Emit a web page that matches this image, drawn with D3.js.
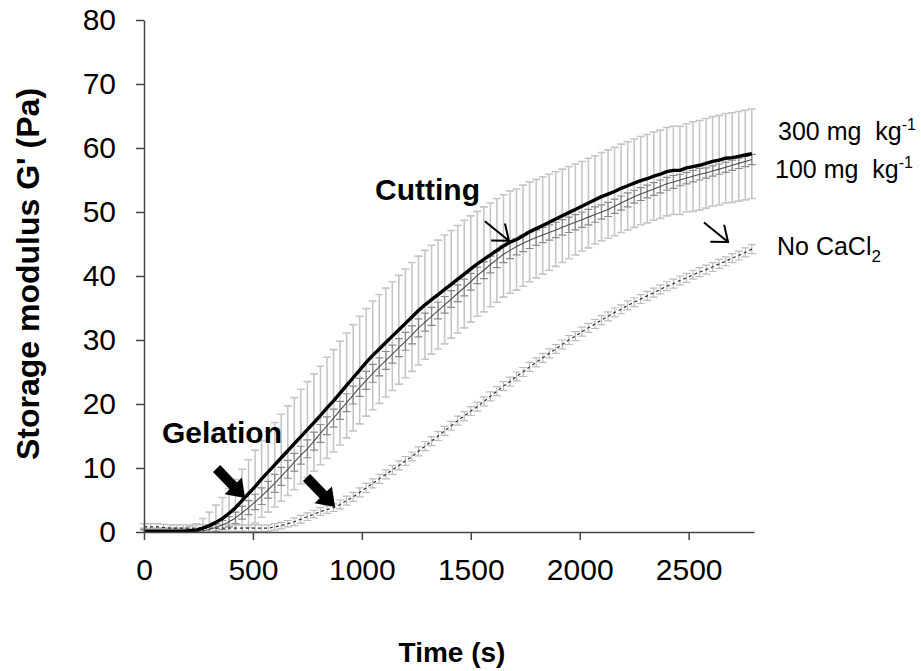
<!DOCTYPE html>
<html lang="en">

<head>
    <meta charset="UTF-8">
    <title>Storage modulus G' vs time</title>
    <script src="https://cdnjs.cloudflare.com/ajax/libs/d3/7.8.5/d3.min.js" type="text/JavaScript"></script>
    <style>
        body { margin: 0; background: #fff; }
        svg { display: block; font-family: "Liberation Sans", Arial, sans-serif; }
    </style>
</head>

<body>
    <svg width="921" height="671"></svg>
    <script>
        // sampling times (s)
        const times = [
            0, 30, 60, 90, 120, 150, 180, 210, 240, 270,
            300, 330, 360, 390, 420, 450, 480, 510, 540, 570,
            600, 630, 660, 690, 720, 750, 780, 810, 840, 870,
            900, 930, 960, 990, 1020, 1050, 1080, 1110, 1140, 1170,
            1200, 1230, 1260, 1290, 1320, 1350, 1380, 1410, 1440, 1470,
            1500, 1530, 1560, 1590, 1620, 1650, 1680, 1710, 1740, 1770,
            1800, 1830, 1860, 1890, 1920, 1950, 1980, 2010, 2040, 2070,
            2100, 2130, 2160, 2190, 2220, 2250, 2280, 2310, 2340, 2370,
            2400, 2430, 2460, 2490, 2520, 2550, 2580, 2610, 2640, 2670,
            2700, 2730, 2760, 2790
        ]

        // 300 mg kg-1 CaCl2
        const g300 = [
            0.1, 0.1, 0.1, 0.1, 0.1, 0.1, 0.1, 0.2, 0.3, 0.6,
            1.0, 1.5, 2.1, 2.9, 3.8, 4.9, 6.0, 7.1, 8.3, 9.4,
            10.5, 11.6, 12.7, 13.8, 14.9, 16.0, 17.1, 18.2, 19.4, 20.5,
            21.7, 22.9, 24.1, 25.3, 26.5, 27.6, 28.6, 29.6, 30.6, 31.6,
            32.6, 33.6, 34.6, 35.5, 36.3, 37.1, 37.9, 38.7, 39.5, 40.3,
            41.1, 41.9, 42.6, 43.3, 44.0, 44.7, 45.3, 45.7, 46.3, 46.9,
            47.4, 47.9, 48.4, 48.9, 49.4, 49.9, 50.4, 50.9, 51.4, 51.9,
            52.4, 52.8, 53.2, 53.7, 54.1, 54.5, 54.9, 55.2, 55.6, 55.9,
            56.3, 56.5, 56.5, 56.9, 57.1, 57.3, 57.6, 57.9, 58.1, 58.4,
            58.5, 58.7, 58.9, 59.1
        ]
        const sd300 = [
            0.5, 0.5, 0.5, 0.5, 0.5, 0.5, 0.5, 0.7, 1.0, 1.5,
            2.1, 2.7, 3.3, 3.9, 4.4, 4.9, 5.3, 5.7, 6.0, 6.3,
            6.6, 6.8, 7.0, 7.2, 7.4, 7.5, 7.6, 7.7, 7.9, 8.0,
            8.1, 8.2, 8.3, 8.4, 8.4, 8.5, 8.5, 8.5, 8.5, 8.5,
            8.5, 8.5, 8.5, 8.5, 8.5, 8.5, 8.5, 8.4, 8.4, 8.4,
            8.3, 8.2, 8.2, 8.1, 8.1, 8.0, 8.0, 7.9, 7.9, 7.8,
            7.7, 7.6, 7.5, 7.4, 7.3, 7.2, 7.1, 7.0, 7.0, 6.9,
            6.9, 6.9, 6.9, 6.9, 6.9, 6.9, 6.9, 6.9, 6.9, 6.9,
            6.9, 6.9, 6.9, 6.9, 7.0, 7.0, 7.0, 7.0, 7.0, 7.0,
            7.0, 7.0, 7.0, 7.0
        ]

        // 100 mg kg-1 CaCl2
        const g100 = [
            0.1, 0.1, 0.1, 0.1, 0.1, 0.1, 0.1, 0.1, 0.1, 0.2,
            0.4, 0.7, 1.1, 1.6, 2.2, 3.0, 3.8, 4.7, 5.6, 6.6,
            7.6, 8.7, 9.8, 10.9, 12.0, 13.0, 14.2, 15.4, 16.6, 17.8,
            19.0, 20.2, 21.4, 22.6, 23.7, 24.8, 25.8, 26.8, 27.8, 28.8,
            29.8, 30.8, 31.9, 32.8, 33.7, 34.6, 35.5, 36.4, 37.3, 38.2,
            39.1, 40.1, 40.9, 41.8, 42.6, 43.4, 44.0, 44.6, 45.1, 45.6,
            46.0, 46.4, 46.8, 47.2, 47.6, 48.0, 48.4, 48.8, 49.2, 49.6,
            50.0, 50.4, 50.9, 51.4, 51.9, 52.4, 52.8, 53.2, 53.6, 54.0,
            54.4, 54.7, 55.0, 55.3, 55.6, 55.9, 56.1, 56.4, 56.7, 57.0,
            57.3, 57.6, 57.9, 58.2
        ]
        const sd100 = [
            0.3, 0.3, 0.3, 0.3, 0.3, 0.3, 0.3, 0.3, 0.3, 0.4,
            0.5, 0.6, 0.7, 0.8, 0.9, 1.0, 1.1, 1.2, 1.3, 1.3,
            1.4, 1.4, 1.4, 1.4, 1.4, 1.4, 1.4, 1.4, 1.4, 1.4,
            1.4, 1.4, 1.4, 1.4, 1.4, 1.4, 1.4, 1.4, 1.4, 1.4,
            1.4, 1.4, 1.4, 1.4, 1.4, 1.3, 1.3, 1.3, 1.3, 1.3,
            1.3, 1.3, 1.3, 1.3, 1.3, 1.3, 1.3, 1.3, 1.3, 1.3,
            1.2, 1.2, 1.2, 1.2, 1.2, 1.2, 1.2, 1.2, 1.2, 1.2,
            1.1, 1.1, 1.1, 1.1, 1.1, 1.0, 1.0, 1.0, 1.0, 1.0,
            1.0, 1.0, 0.9, 0.9, 0.9, 0.9, 0.8, 0.8, 0.8, 0.8,
            0.8, 0.8, 0.8, 0.8
        ]

        // no CaCl2
        const gNo = [
            0.8, 0.8, 0.8, 0.7, 0.6, 0.6, 0.6, 0.6, 0.6, 0.6,
            0.6, 0.6, 0.6, 0.6, 0.6, 0.6, 0.6, 0.6, 0.6, 0.6,
            0.8, 1.0, 1.3, 1.6, 2.0, 2.4, 2.8, 3.2, 3.5, 3.8,
            4.3, 4.9, 5.5, 6.2, 6.9, 7.6, 8.3, 9.0, 9.7, 10.4,
            11.1, 11.8, 12.6, 13.4, 14.2, 15.0, 15.8, 16.6, 17.4, 18.1,
            18.9, 19.6, 20.4, 21.2, 22.0, 22.8, 23.5, 24.3, 25.0, 25.8,
            26.5, 27.2, 27.9, 28.6, 29.3, 30.0, 30.6, 31.3, 31.9, 32.5,
            33.1, 33.7, 34.3, 34.8, 35.4, 35.9, 36.4, 36.9, 37.4, 37.9,
            38.4, 38.8, 39.3, 39.7, 40.2, 40.6, 41.0, 41.4, 41.9, 42.3,
            42.8, 43.2, 43.7, 44.2
        ]
        const sdNo = [
            0.5, 0.5, 0.5, 0.5, 0.5, 0.5, 0.5, 0.5, 0.5, 0.5,
            0.5, 0.5, 0.5, 0.5, 0.5, 0.5, 0.5, 0.5, 0.5, 0.5,
            0.5, 0.5, 0.5, 0.6, 0.6, 0.6, 0.6, 0.6, 0.6, 0.6,
            0.7, 0.7, 0.7, 0.7, 0.7, 0.7, 0.7, 0.7, 0.7, 0.7,
            0.7, 0.7, 0.7, 0.7, 0.7, 0.7, 0.7, 0.7, 0.7, 0.7,
            0.7, 0.7, 0.7, 0.7, 0.7, 0.7, 0.7, 0.7, 0.7, 0.7,
            0.7, 0.7, 0.7, 0.7, 0.7, 0.7, 0.7, 0.7, 0.7, 0.7,
            0.7, 0.7, 0.7, 0.7, 0.7, 0.7, 0.7, 0.7, 0.7, 0.7,
            0.7, 0.7, 0.7, 0.7, 0.7, 0.7, 0.7, 0.7, 0.7, 0.7,
            0.7, 0.7, 0.7, 0.7
        ]

        const xTicks = [0, 500, 1000, 1500, 2000, 2500]
        const yTicks = [0, 10, 20, 30, 40, 50, 60, 70, 80]

        // annotation anchors in data units (tip of each arrow)
        const boldArrows = [{ t: 464, v: 5.3 }, { t: 877, v: 3.9 }]
        const openArrows = [{ t: 1675, v: 45.5 }, { t: 2681, v: 45.3 }]

        ;[g300, sd300, g100, sd100, gNo, sdNo].forEach((a, i) => {
            if (a.length !== times.length) throw new Error(`array ${i} has ${a.length} values`)
        })

        const series = [
            { key: "none", mean: gNo, sd: sdNo, stroke: "#2a2a2a", width: 1.2, dash: "3,3", bar: "#bcbcbc", barWidth: 1.2 },
            { key: "c100", mean: g100, sd: sd100, stroke: "#4d4d4d", width: 1.1, dash: null, bar: "#8a8a8a", barWidth: 1.2 },
            { key: "c300", mean: g300, sd: sd300, stroke: "#000", width: 3.4, dash: null, bar: "#c6c6c6", barWidth: 1.6 }
        ]

        const svg = d3.select("svg")
        const x = d3.scaleLinear().domain([0, 2800]).range([144, 754])
        const y = d3.scaleLinear().domain([0, 80]).range([532, 20])

        svg.append("clipPath")
            .attr("id", "plotClip")
            .append("rect")
            .attr("x", 130).attr("y", 0)
            .attr("width", 640).attr("height", 532)

        const plot = svg.append("g").attr("clip-path", "url(#plotClip)")

        // error bars, light 300 first so the others sit on top
        const barOrder = [series[2], series[0], series[1]]
        barOrder.forEach(s => {
            plot.append("g")
                .attr("class", `bars ${s.key}`)
                .selectAll("path")
                .data(times.map((t, i) => ({ t, m: s.mean[i], e: s.sd[i] })))
                .enter()
                .append("path")
                .attr("d", d => {
                    const cx = x(d.t), y1 = y(d.m + d.e), y2 = y(d.m - d.e)
                    return `M${cx},${y1}V${y2}M${cx - 4},${y1}H${cx + 4}M${cx - 4},${y2}H${cx + 4}`
                })
                .style("fill", "none")
                .style("stroke", s.bar)
                .style("stroke-width", s.barWidth)
        })

        const line = d3.line().x(d => x(d.t)).y(d => y(d.m))

        series.forEach(s => {
            plot.append("path")
                .datum(times.map((t, i) => ({ t, m: s.mean[i] })))
                .attr("d", line)
                .style("fill", "none")
                .style("stroke", s.stroke)
                .style("stroke-width", s.width)
                .style("stroke-dasharray", s.dash)
                .style("stroke-linejoin", "round")
        })

        // axes
        const xAxis = svg.append("g")
            .attr("transform", `translate(0,${y(0)})`)
            .call(d3.axisBottom(x).tickValues(xTicks).tickFormat(d3.format("d"))
                .tickSize(8).tickSizeOuter(0).tickPadding(19))
        const yAxis = svg.append("g")
            .attr("transform", `translate(${x(0)},0)`)
            .call(d3.axisLeft(y).tickValues(yTicks).tickFormat(d3.format("d"))
                .tickSize(8).tickSizeOuter(0).tickPadding(20))

        ;[xAxis, yAxis].forEach(a => {
            a.select(".domain").style("stroke", "#444").style("stroke-width", 1.5)
            a.selectAll(".tick line").style("stroke", "#444").style("stroke-width", 1.5)
            a.selectAll(".tick text")
                .style("font-size", "30px")
                .style("font-family", "'Liberation Sans', Arial, sans-serif")
                .style("fill", "#000")
        })

        svg.append("text")
            .attr("x", 452).attr("y", 662)
            .style("text-anchor", "middle")
            .style("font-size", "28px")
            .style("font-weight", "bold")
            .text("Time (s)")

        svg.append("text")
            .attr("transform", "translate(39,274) rotate(-90)")
            .style("text-anchor", "middle")
            .style("font-size", "32px")
            .style("font-weight", "bold")
            .text("Storage modulus G' (Pa)")

        // Gelation arrows (filled block arrows)
        svg.selectAll("path.boldArrow")
            .data(boldArrows)
            .enter()
            .append("path")
            .attr("class", "boldArrow")
            .attr("transform", d => `translate(${x(d.t)},${y(d.v)}) rotate(46)`)
            .attr("d", "M0,0L-17,-12L-17,-5L-41,-5L-41,5L-17,5L-17,12Z")
            .style("fill", "#000")

        // open arrows (Cutting, No CaCl2)
        svg.selectAll("path.openArrow")
            .data(openArrows)
            .enter()
            .append("path")
            .attr("class", "openArrow")
            .attr("transform", d => `translate(${x(d.t)},${y(d.v)}) rotate(39)`)
            .attr("d", "M-31,0L0,0M-14,-11L0,0L-14,11")
            .style("fill", "none")
            .style("stroke", "#000")
            .style("stroke-width", 2)

        svg.append("text")
            .attr("x", 162).attr("y", 443)
            .style("font-size", "30px")
            .style("font-weight", "bold")
            .text("Gelation")

        svg.append("text")
            .attr("x", 375).attr("y", 200)
            .style("font-size", "30px")
            .style("font-weight", "bold")
            .text("Cutting")

        // series labels at the right
        const lab300 = svg.append("text")
            .attr("x", 778).attr("y", 140)
            .style("font-size", "25px")
        lab300.append("tspan").text("300 mg\u00a0 kg")
        lab300.append("tspan").attr("dy", -10).style("font-size", "16px").text("-1")

        const lab100 = svg.append("text")
            .attr("x", 775).attr("y", 178)
            .style("font-size", "25px")
        lab100.append("tspan").text("100 mg\u00a0 kg")
        lab100.append("tspan").attr("dy", -10).style("font-size", "16px").text("-1")

        const labNo = svg.append("text")
            .attr("x", 777).attr("y", 255)
            .style("font-size", "25px")
        labNo.append("tspan").text("No CaCl")
        labNo.append("tspan").attr("dy", 7).style("font-size", "17px").text("2")
    </script>
</body>

</html>
